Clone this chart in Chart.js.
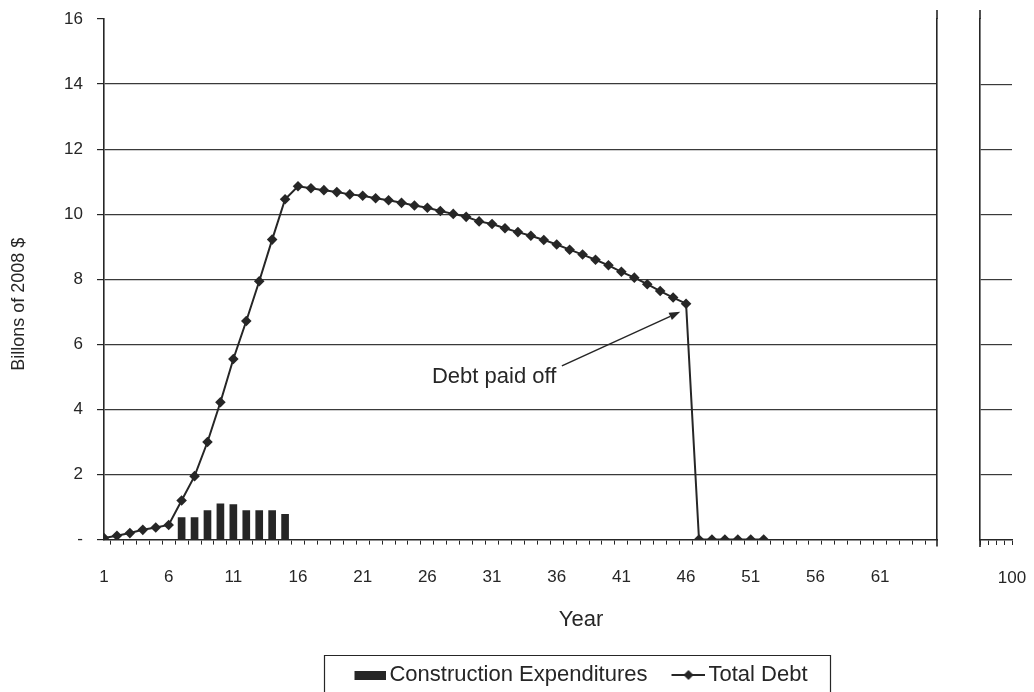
<!DOCTYPE html>
<html><head><meta charset="utf-8">
<script src="https://cdn.jsdelivr.net/npm/chart.js@4.4.0/dist/chart.umd.min.js"></script>
<style>
html,body{margin:0;padding:0;background:#fff;overflow:hidden;width:1034px;height:692px}
#wrap{position:relative;width:1034px;height:692px;overflow:hidden;background:#fff}
#main{position:absolute;left:0;top:0}
#side{position:absolute;left:940px;top:0}
</style></head><body>
<div id="wrap">
<canvas id="main" width="1154" height="692"></canvas>
<canvas id="side" width="140" height="692"></canvas>
</div>
<script>
// ---- data ----
const debtYears = [1,2,3,4,5,6,7,8,9,10,11,12,13,14,15,16,17,18,19,20,21,22,23,24,25,26,27,28,29,30,31,32,33,34,35,36,37,38,39,40,41,42,43,44,45,46,47,48,49,50,51,52];
const totalDebt = [0.05,0.12,0.2,0.3,0.37,0.45,1.2,1.95,3.0,4.22,5.55,6.72,7.94,9.22,10.46,
  10.86,10.8,10.74,10.68,10.61,10.57,10.49,10.43,10.35,10.27,10.2,10.1,10.01,9.92,9.78,9.7,
  9.57,9.45,9.34,9.21,9.07,8.91,8.76,8.6,8.43,8.23,8.05,7.85,7.64,7.44,7.25,
  0,0,0,0,0,0];
const constructionYears = [7,8,9,10,11,12,13,14,15];
const constructionExp = [0.68,0.68,0.89,1.1,1.08,0.89,0.89,0.89,0.78];
const xLabelYears = [1,6,11,16,21,26,31,36,41,46,51,56,61];
const yTickValues = [0,2,4,6,8,10,12,14,16];
const yTickLabels = ['-','2','4','6','8','10','12','14','16'];
const sideTickLabel = '100';
const seriesNames = ['Construction Expenditures','Total Debt'];
const yTitle = 'Billons of 2008 $';
const xTitle = 'Year';
const noteText = 'Debt paid off';

// ---- style ----
const FONT = "'Liberation Sans', Arial, Helvetica, sans-serif";
const INK = '#262626';
const GRID = '#3a3a3a';
Chart.defaults.font.family = FONT;
Chart.defaults.color = INK;

const axisTicks = (from, to) => { const t = []; for (let v = from; v <= to; v++) t.push({value: v}); return t; };
const gridColor = c => (c.tick && (c.tick.value === 0 || c.tick.value === 16)) ? 'rgba(0,0,0,0)' : GRID;

function mkSwatch(kind) {
  const c = document.createElement('canvas');
  c.width = 40; c.height = 14;
  const g = c.getContext('2d');
  g.fillStyle = INK; g.strokeStyle = INK;
  if (kind === 'bar') {
    g.fillRect(8, 3, 32, 9);
  } else {
    g.lineWidth = 1.8;
    g.beginPath(); g.moveTo(6, 7); g.lineTo(40, 7); g.stroke();
    g.beginPath(); g.moveTo(23, 2); g.lineTo(28, 7); g.lineTo(23, 12); g.lineTo(18, 7); g.closePath(); g.fill();
  }
  return c;
}
const swatches = [mkSwatch('bar'), mkSwatch('line')];

const legendFrame = {
  id: 'legendFrame',
  afterDraw(chart) {
    const lg = chart.legend;
    if (!lg || !lg.legendHitBoxes || !lg.legendHitBoxes.length) return;
    const hb = lg.legendHitBoxes;
    const l = Math.round(hb[0].left - 30) + 0.5;
    const r = Math.round(hb[hb.length - 1].left + hb[hb.length - 1].width + 22) + 0.5;
    const t = Math.round(hb[0].top + hb[0].height / 2 - 20) + 0.5;
    const ctx = chart.ctx;
    ctx.save();
    ctx.strokeStyle = INK; ctx.lineWidth = 1.2;
    ctx.beginPath(); ctx.moveTo(l, 700); ctx.lineTo(l, t); ctx.lineTo(r, t); ctx.lineTo(r, 700); ctx.stroke();
    ctx.restore();
  }
};

// extends a panel edge line slightly above and below the plot, as in the original
const edgeExtend = side => ({
  id: 'edgeExtend',
  afterDraw(chart) {
    const a = chart.chartArea, ctx = chart.ctx;
    const x = side === 'right' ? a.right : a.left;
    ctx.save();
    ctx.strokeStyle = INK; ctx.lineWidth = 1.6;
    ctx.beginPath();
    ctx.moveTo(x, 10); ctx.lineTo(x, a.top);
    ctx.moveTo(x, a.bottom); ctx.lineTo(x, a.bottom + 7);
    ctx.stroke();
    ctx.restore();
  }
});

const notePos = {textX: 35.97, textY: 5.0, fromX: 36.4, fromY: 5.34, toX: 45.55, toY: 7.0};
const annotation = {
  id: 'note',
  afterDatasetsDraw(chart) {
    const xs = chart.scales.x, ys = chart.scales.y, ctx = chart.ctx;
    ctx.save();
    ctx.fillStyle = INK; ctx.strokeStyle = INK;
    ctx.font = '22px ' + FONT;
    ctx.textAlign = 'right'; ctx.textBaseline = 'middle';
    ctx.fillText(noteText, xs.getPixelForValue(notePos.textX), ys.getPixelForValue(notePos.textY));
    const x0 = xs.getPixelForValue(notePos.fromX), y0 = ys.getPixelForValue(notePos.fromY);
    const x1 = xs.getPixelForValue(notePos.toX), y1 = ys.getPixelForValue(notePos.toY);
    const ang = Math.atan2(y1 - y0, x1 - x0), L = 11, W = 4;
    const bx = x1 - L * Math.cos(ang), by = y1 - L * Math.sin(ang);
    ctx.lineWidth = 1.5;
    ctx.beginPath(); ctx.moveTo(x0, y0); ctx.lineTo(bx, by); ctx.stroke();
    ctx.beginPath();
    ctx.moveTo(x1, y1);
    ctx.lineTo(bx + W * Math.sin(ang), by - W * Math.cos(ang));
    ctx.lineTo(bx - W * Math.sin(ang), by + W * Math.cos(ang));
    ctx.closePath(); ctx.fill();
    ctx.restore();
  }
};

new Chart(document.getElementById('main'), {
  type: 'line',
  data: {
    datasets: [
      {
        type: 'bar', label: seriesNames[0],
        data: constructionYears.map((x, i) => ({x, y: constructionExp[i]})),
        backgroundColor: INK, borderWidth: 0, barThickness: 7, grouped: false
      },
      {
        type: 'line', label: seriesNames[1],
        data: debtYears.map((x, i) => ({x, y: totalDebt[i]})),
        borderColor: INK, borderWidth: 2, tension: 0, fill: false,
        pointStyle: 'rectRot', pointRadius: 5.3, pointBackgroundColor: INK,
        pointBorderColor: INK, pointBorderWidth: 0
      }
    ]
  },
  options: {
    responsive: false, animation: false, devicePixelRatio: 1,
    layout: {padding: {left: 8, top: 19, right: 0, bottom: -4}},
    scales: {
      x: {
        type: 'linear', min: 1, max: 65.4, offset: false,
        afterBuildTicks: s => { s.ticks = axisTicks(1, 65); },
        afterFit: s => { s.height = 50; },
        grid: {drawOnChartArea: false, drawTicks: true, tickLength: 5, color: INK, lineWidth: 1},
        border: {display: true, color: INK, width: 1.6},
        ticks: {autoSkip: false, maxRotation: 0, padding: 23, font: {size: 17}, color: INK,
          callback: v => xLabelYears.includes(v) ? String(v) : ''}
      },
      y: {
        min: 0, max: 16,
        afterBuildTicks: s => { s.ticks = yTickValues.map(v => ({value: v})); },
        afterFit: s => { s.width = 96; },
        grid: {color: gridColor, tickColor: INK, tickLength: 7, lineWidth: 1.2},
        border: {display: true, color: INK, width: 1.6},
        ticks: {padding: 14, font: {size: 17, lineHeight: 0.5}, color: INK,
          callback: v => yTickLabels[yTickValues.indexOf(v)]},
        title: {display: true, text: yTitle + '\u00a0'.repeat(10), font: {size: 18}, color: INK, padding: {top: 0, bottom: 0}}
      },
      y2: {
        position: 'right', min: 0, max: 16, display: true,
        afterFit: s => { s.width = 217; },
        grid: {drawOnChartArea: false, drawTicks: false},
        ticks: {display: false},
        border: {display: true, color: INK, width: 1.6}
      }
    },
    plugins: {
      tooltip: {enabled: false},
      title: {display: true, text: xTitle, position: 'bottom', weight: 10,
        font: {size: 22, weight: 'normal'}, color: INK, padding: {top: 17, bottom: 5}},
      legend: {
        position: 'bottom',
        labels: {
          usePointStyle: true, pointStyleWidth: 24, padding: 26,
          font: {size: 22}, color: INK,
          generateLabels: chart => Chart.defaults.plugins.legend.labels.generateLabels(chart)
            .map((l, i) => Object.assign(l, {pointStyle: swatches[i]}))
        }
      }
    }
  },
  plugins: [legendFrame, annotation, edgeExtend('right')]
});

new Chart(document.getElementById('side'), {
  type: 'line',
  data: {datasets: [{label: '', data: []}]},
  options: {
    responsive: false, animation: false, devicePixelRatio: 1,
    layout: {padding: {left: 40, top: 19, right: 68, bottom: 102}},
    plugins: {legend: {display: false}, tooltip: {enabled: false}},
    scales: {
      x: {
        type: 'linear', min: 96, max: 100,
        afterBuildTicks: s => { s.ticks = axisTicks(96, 100); },
        afterFit: s => { s.height = 50; },
        grid: {drawOnChartArea: false, tickLength: 5, color: INK},
        border: {display: true, color: INK, width: 1.6},
        ticks: {autoSkip: false, maxRotation: 0, padding: 23, font: {size: 17}, color: INK,
          callback: v => v === 100 ? sideTickLabel : ''}
      },
      y: {
        min: 0, max: 16,
        afterBuildTicks: s => { s.ticks = yTickValues.map(v => ({value: v})); },
        afterFit: s => { s.width = 0; },
        grid: {color: gridColor, drawTicks: false, lineWidth: 1.2},
        border: {display: true, color: INK, width: 1.6},
        ticks: {display: false}
      }
    }
  },
  plugins: [edgeExtend('left')]
});
</script>
</body></html>
